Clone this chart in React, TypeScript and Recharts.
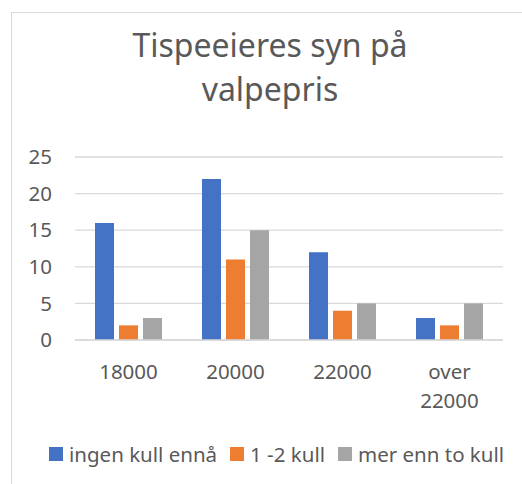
import { BarChart, Bar, XAxis, YAxis, CartesianGrid } from 'recharts';

const categories = ['18000', '20000', '22000', 'over 22000'];
const ingenKull = [16, 22, 12, 3];
const enToKull = [2, 11, 4, 2];
const merEnnTo = [3, 15, 5, 5];
const yTicks = [0, 5, 10, 15, 20, 25];

const SERIES = [
  { key: 'ingen', name: 'ingen kull ennå', color: '#4472C4' },
  { key: 'enTo', name: '1 -2 kull', color: '#ED7D31' },
  { key: 'mer', name: 'mer enn to kull', color: '#A5A5A5' },
];

const data = categories.map((c, i) => ({
  name: c,
  ingen: ingenKull[i],
  enTo: enToKull[i],
  mer: merEnnTo[i],
}));

const FONT = '"Noto Sans", sans-serif';
const TEXT = '#595959';

// splits "over 22000" into two lines like the Excel axis
function XTick(props: any) {
  const { x, payload } = props;
  const lines = String(payload.value).split(' ');
  return (
    <text textAnchor="middle" fill={TEXT} fontSize={20.5} fontFamily={FONT}>
      {lines.map((l, i) => (
        <tspan key={i} x={x} y={379 + i * 29}>
          {l}
        </tspan>
      ))}
    </text>
  );
}

export default function App() {
  return (
    <div style={{ position: 'absolute', left: 0, top: 0, width: 522, height: 484, overflow: 'hidden', background: '#fff' }}>
      <div
        style={{
          position: 'absolute',
          left: 11,
          top: 12,
          width: 511,
          height: 472,
          borderLeft: '1px solid #d9d9d9',
          borderTop: '1px solid #d9d9d9',
        }}
      />
      <div
        style={{
          position: 'absolute',
          left: 70,
          width: 400,
          top: 23,
          textAlign: 'center',
          fontFamily: FONT,
          fontSize: 32,
          lineHeight: '44px',
          color: TEXT,
        }}
      >
        Tispeeieres syn på
        <br />
        valpepris
      </div>
      <div style={{ position: 'absolute', left: 0, top: 0 }}>
        <BarChart
          width={522}
          height={484}
          data={data}
          margin={{ top: 157, right: 19, left: 0, bottom: 84 }}
          barSize={19}
          barGap={5}
        >
          <CartesianGrid horizontal vertical={false} stroke="#d9d9d9" strokeWidth={1.3} />
          <XAxis
            dataKey="name"
            height={60}
            axisLine={{ stroke: '#d9d9d9', strokeWidth: 1.3 }}
            tickLine={false}
            tick={<XTick />}
            interval={0}
          />
          <YAxis
            width={75}
            domain={[0, 25]}
            ticks={yTicks}
            axisLine={false}
            tickLine={false}
            tickMargin={17}
            tick={{ fill: TEXT, fontSize: 20.5, fontFamily: FONT }}
          />
          {SERIES.map((s) => (
            <Bar key={s.key} dataKey={s.key} name={s.name} fill={s.color} isAnimationActive={false} />
          ))}
        </BarChart>
      </div>
      <div
        style={{
          position: 'absolute',
          left: 49,
          top: 440,
          height: 28,
          display: 'flex',
          alignItems: 'center',
          fontFamily: FONT,
          fontSize: 20.5,
          color: TEXT,
          whiteSpace: 'nowrap',
        }}
      >
        {SERIES.map((s) => (
          <div key={s.key} style={{ display: 'flex', alignItems: 'center', marginRight: 13 }}>
            <span style={{ width: 14, height: 14, background: s.color, marginRight: 6, display: 'inline-block' }} />
            <span>{s.name}</span>
          </div>
        ))}
      </div>
    </div>
  );
}
